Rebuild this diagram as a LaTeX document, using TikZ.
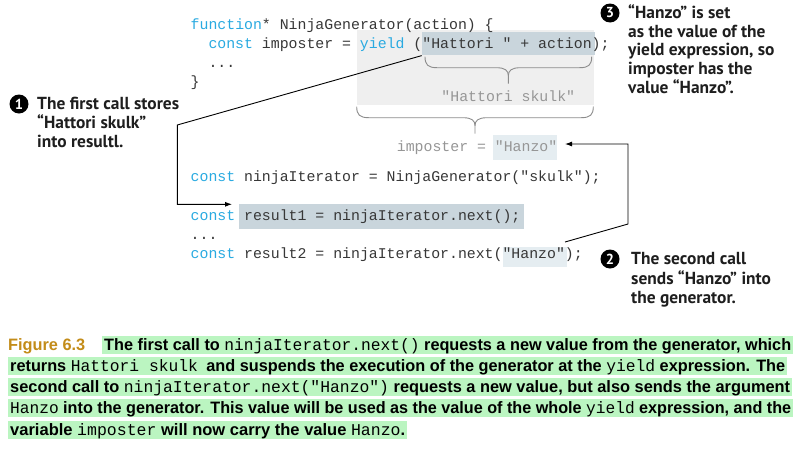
\documentclass[tikz,border=0pt]{standalone}
\usepackage{fontspec}
\usepackage{graphicx}
\usetikzlibrary{arrows.meta,calc}
\newfontfamily\codefont{Liberation Mono}
\newfontfamily\capfont{Liberation Sans}
\newfontfamily\callfont{PT Sans}
\definecolor{kwblue}{RGB}{41,170,225}
\definecolor{codegray}{RGB}{55,55,55}
\definecolor{softgray}{RGB}{150,150,150}
\definecolor{boxgray}{RGB}{239,239,239}
\definecolor{hldark}{RGB}{201,213,220}
\definecolor{hllight}{RGB}{229,237,241}
\definecolor{bracegray}{RGB}{140,140,140}
\definecolor{capgreen}{RGB}{187,245,193}
\definecolor{figgold}{RGB}{195,140,25}
\definecolor{calltext}{RGB}{30,30,30}
\newcommand\kw[1]{{\color{kwblue}#1}}
\newcommand\cc[1]{{\codefont\mdseries #1}}
\newcommand\drawbrace[3]{%
  \pgfmathsetmacro\bxm{(#1+#2)/2}%
  \draw[bracestyle] (#1,#3) .. controls (#1,#3+8) and (#1+3,#3+11) .. (#1+12,#3+11) -- (\bxm-12,#3+11) .. controls (\bxm-3,#3+11) and (\bxm,#3+14) .. (\bxm,#3+19) -- (\bxm,#3+27);
  \draw[bracestyle] (#2,#3) .. controls (#2,#3+8) and (#2-3,#3+11) .. (#2-12,#3+11) -- (\bxm+12,#3+11) .. controls (\bxm+3,#3+11) and (\bxm,#3+14) .. (\bxm,#3+19);
}
\begin{document}
\begin{tikzpicture}[x=1pt,y=-1pt,
  codeline/.style={anchor=base west, inner sep=0pt, font=\codefont\fontsize{14.85}{17}\selectfont, text=codegray},
  softline/.style={codeline, text=softgray},
  hlbox/.style={anchor=north west, inner sep=0pt, draw=none},
  bracestyle/.style={draw=bracegray, line width=0.9pt},
  conn/.style={draw=black, line width=0.9pt},
  arr/.style={conn, -{Latex[length=7pt,width=5pt]}},
  numdot/.style={circle, fill=black, text=white, minimum size=19pt, inner sep=0pt, font=\callfont\bfseries\fontsize{14.5}{14.5}\selectfont},
  callline/.style={anchor=base west, inner sep=0pt, text=calltext, font=\callfont\bfseries\fontsize{17.4}{19}\selectfont},
  capline/.style={anchor=base west, inner sep=0pt, text=black, font=\capfont\bfseries\fontsize{16.5}{18}\selectfont},
  capbox/.style={fill=capgreen}
]
\useasboundingbox (0,0) rectangle (803,450);
\fill[white] (0,0) rectangle (803,450);

% backgrounds
\fill[boxgray] (356.5,30) rectangle (594.3,105);
\node[hlbox, fill=hldark, minimum width=172.6pt, minimum height=23.5pt] (hl1) at (421.7,31.7) {};
\node[hlbox, fill=hllight, minimum width=64pt, minimum height=25pt] (hl3) at (493,135) {};
\node[hlbox, fill=hldark, minimum width=285pt, minimum height=25pt] (hl2) at (238.3,203.3) {};
\node[hlbox, fill=hllight, minimum width=64pt, minimum height=20pt] (hl4) at (502.7,246.5) {};

% braces
\drawbrace{425}{591.7}{56.7}
\drawbrace{356.7}{593.3}{106.7}

% code
\node[codeline] (c1) at (190.5,29.5) {\kw{function}* NinjaGenerator(action) \{};
\node[codeline] (c2) at (208.3,48.5) {\kw{const} imposter = \kw{yield} ("Hattori " + action);};
\node[codeline] (c3) at (208.3,67.5) {...};
\node[codeline] (c4) at (190.5,86.5) {\}};
\node[softline, anchor=base] (hs) at (508.3,101) {"Hattori skulk"};
\node[softline] (imp) at (396.7,151) {imposter = "Hanzo"};
\node[codeline] (c5) at (190.5,181.5) {\kw{const} ninjaIterator = NinjaGenerator("skulk");};
\node[codeline] (c6) at (190.5,220.5) {\kw{const} result1 = ninjaIterator.next();};
\node[codeline] (c7) at (190.5,239) {...};
\node[codeline] (c8) at (190.5,258.5) {\kw{const} result2 = ninjaIterator.next("Hanzo");};

% connectors
\coordinate (k1) at (177.3,125);
\coordinate (k2) at (177.3,204.3);
\coordinate (t1) at (232,204.3);
\draw[arr] (hl1.south west) -- (k1) -- (k2) -- (t1);
\coordinate (s2) at (565,242);
\coordinate (k3) at (628,224);
\coordinate (k4) at (628,144);
\coordinate (t2) at (565,144);
\draw[arr] (s2) -- (k3) -- (k4) -- (t2);

% callout 1
\node[numdot] (n1) at (19,104) {1};
\node[callline] (a1) at (37,109.5) {The first call stores};
\node[callline] (a2) at (37,128.5) {“Hattori skulk”};
\node[callline] (a3) at (37,147.5) {into resultl.};

% callout 3
\node[numdot] (n3) at (610,13) {3};
\node[callline] (b1) at (628,18.5) {“Hanzo” is set};
\node[callline] (b2) at (628,37.2) {as the value of the};
\node[callline] (b3) at (628,55.9) {yield expression, so};
\node[callline] (b4) at (628,74.6) {imposter has the};
\node[callline] (b5) at (628,93.3) {value “Hanzo”.};

% callout 2
\node[numdot] (n2) at (610,259) {2};
\node[callline] (d1) at (631,264.5) {The second call};
\node[callline] (d2) at (631,284) {sends “Hanzo” into};
\node[callline] (d3) at (631,303.5) {the generator.};

% caption
\fill[capbox] (102,336) rectangle (793,354);
\fill[capbox] (8,357) rectangle (787,375);
\fill[capbox] (8,378) rectangle (792,396);
\fill[capbox] (8,399) rectangle (793,417);
\fill[capbox] (8,420.5) rectangle (407,438.5);
\node[capline, text=figgold] (fig) at (8,350) {\resizebox{77pt}{\height}{Figure 6.3}};
\node[capline] (p1) at (104,350) {\resizebox{687pt}{\height}{The first call to \cc{ninjaIterator.next()} requests a new value from the generator, which}};
\node[capline] (p2) at (10,371.5) {\resizebox{775pt}{\height}{returns \cc{Hattori skulk}\hspace{4pt} and suspends the execution of the generator at the \cc{yield} expression. The}};
\node[capline] (p3) at (10,392.5) {\resizebox{780pt}{\height}{second call to \cc{ninjaIterator.next("Hanzo")} requests a new value, but also sends the argument}};
\node[capline] (p4) at (10,413.5) {\resizebox{781pt}{\height}{\cc{Hanzo} into the generator. This value will be used as the value of the whole \cc{yield} expression, and the}};
\node[capline] (p5) at (10,435) {\resizebox{395pt}{\height}{variable \cc{imposter} will now carry the value \cc{Hanzo}.}};
\end{tikzpicture}
\end{document}
